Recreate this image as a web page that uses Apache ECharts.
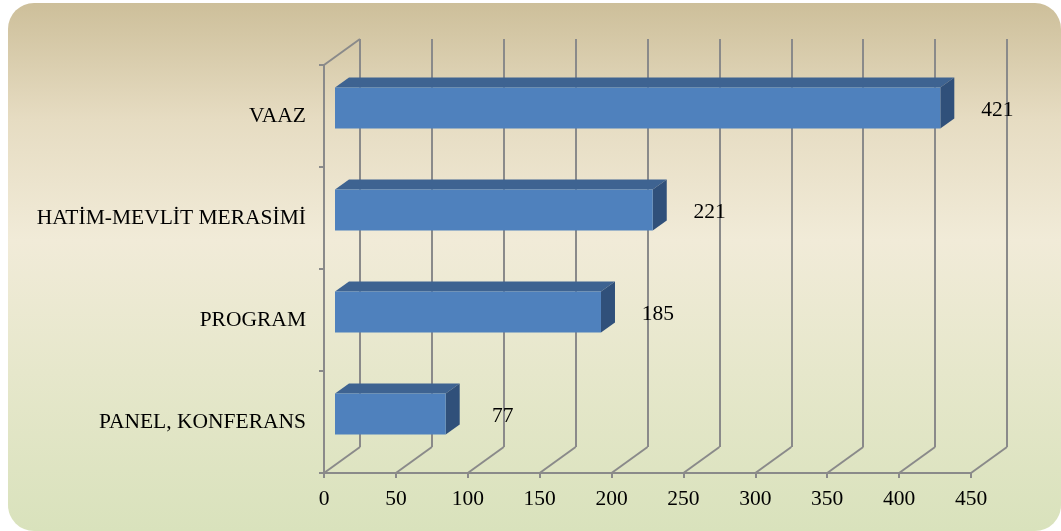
<!DOCTYPE html>
<html>
<head>
<meta charset="utf-8">
<script src="https://cdn.jsdelivr.net/npm/echarts@6/dist/echarts.min.js"></script>
<style>
  html, body { margin: 0; padding: 0; background: #fff; }
  #wrap { position: relative; width: 1061px; height: 531px; overflow: hidden; }
  #bg {
    position: absolute; left: 8px; top: 3px; right: 0; bottom: 0;
    border-radius: 26px;
    background: linear-gradient(to bottom, #cdbf9a 0%, #e6dcc2 22%, #f1ebd8 45%, #e6e7cb 70%, #d9e2bc 100%);
  }
  #chart { position: absolute; left: 0; top: 0; width: 1061px; height: 531px; }
</style>
</head>
<body>
<div id="wrap">
  <div id="bg"></div>
  <div id="chart"></div>
</div>
<script>
const categories = ['PANEL, KONFERANS', 'PROGRAM', 'HATİM-MEVLİT MERASİMİ', 'VAAZ'];
const values = [77, 185, 221, 421];
const xTicks = [0, 50, 100, 150, 200, 250, 300, 350, 400, 450];

// 3d look: depth of the back wall and of the bars, in pixels
const WALL_DX = 36, WALL_DY = 26;
const BAR_DX = 11, BAR_DY = 8;
const BAR_DEPTH_X = 14, BAR_DEPTH_Y = 10;
const GRID_COLOR = '#8a8a8a';
const FONT = 'Liberation Serif, Times New Roman, serif';
const FONT_SIZE = 21.5;

const chart = echarts.init(document.getElementById('chart'));

function renderFloor(params, api) {
  const t = api.value(0);
  const cs = params.coordSys;
  const bottom = cs.y + cs.height;
  const x = api.coord([t, 0])[0];
  const children = [{
    type: 'line',
    shape: { x1: x, y1: bottom, x2: x + WALL_DX, y2: bottom - WALL_DY },
    style: { stroke: GRID_COLOR, lineWidth: 2 }
  }];
  if (params.dataIndex === 0) {
    children.push({
      type: 'line',
      shape: { x1: cs.x, y1: cs.y, x2: cs.x + WALL_DX, y2: cs.y - WALL_DY },
      style: { stroke: GRID_COLOR, lineWidth: 2 }
    });
  }
  return { type: 'group', children: children };
}

function renderBar(params, api) {
  const i = api.value(0);
  const v = api.value(1);
  const start = api.coord([0, i]);
  const end = api.coord([v, i]);
  const band = api.size([0, 1])[1];
  const h = band * 0.4;
  const x0 = start[0] + BAR_DX;
  const x1 = end[0] + BAR_DX;
  const yc = start[1] - BAR_DY;
  const y0 = yc - h / 2;
  const y1 = yc + h / 2;
  return {
    type: 'group',
    children: [
      {
        type: 'polygon',
        shape: { points: [[x0, y0], [x1, y0], [x1 + BAR_DEPTH_X, y0 - BAR_DEPTH_Y], [x0 + BAR_DEPTH_X, y0 - BAR_DEPTH_Y]] },
        style: { fill: '#3e6391' }
      },
      {
        type: 'polygon',
        shape: { points: [[x1, y0], [x1 + BAR_DEPTH_X, y0 - BAR_DEPTH_Y], [x1 + BAR_DEPTH_X, y1 - BAR_DEPTH_Y], [x1, y1]] },
        style: { fill: '#30507a' }
      },
      {
        type: 'rect',
        shape: { x: x0, y: y0, width: x1 - x0, height: h },
        style: { fill: '#4f81bd' }
      },
      {
        type: 'text',
        x: x1 + 57,
        y: yc + 2,
        style: {
          text: String(v), fill: '#000', font: FONT_SIZE + 'px ' + FONT,
          align: 'center', verticalAlign: 'middle'
        }
      }
    ]
  };
}

const option = {
  animation: false,
  grid: [
    { left: 324, right: 90, top: 65, bottom: 58 },
    { left: 324 + WALL_DX, right: 90 - WALL_DX, top: 65 - WALL_DY, bottom: 58 + WALL_DY }
  ],
  xAxis: [
    {
      gridIndex: 0, type: 'value', min: 0, max: 450, interval: 50,
      axisLine: { show: true, lineStyle: { color: GRID_COLOR, width: 2 } },
      axisTick: { show: true, length: 5, lineStyle: { color: GRID_COLOR, width: 2 } },
      splitLine: { show: false },
      axisLabel: { color: '#000', fontFamily: FONT, fontSize: FONT_SIZE, margin: 15 }
    },
    {
      gridIndex: 1, type: 'value', min: 0, max: 450, interval: 50,
      axisLine: { show: false }, axisTick: { show: false }, axisLabel: { show: false },
      splitLine: { show: true, lineStyle: { color: GRID_COLOR, width: 2 } }
    }
  ],
  yAxis: [
    {
      gridIndex: 0, type: 'category', data: categories,
      axisLine: { show: true, lineStyle: { color: GRID_COLOR, width: 2 } },
      axisTick: { show: true, length: 5, lineStyle: { color: GRID_COLOR, width: 2 } },
      splitLine: { show: false },
      axisLabel: { color: '#000', fontFamily: FONT, fontSize: FONT_SIZE, margin: 18, padding: [4, 0, 0, 0] }
    },
    {
      gridIndex: 1, type: 'category', data: categories, show: false
    }
  ],
  series: [
    {
      type: 'custom',
      xAxisIndex: 0, yAxisIndex: 0,
      renderItem: renderFloor,
      data: xTicks.map(t => [t]),
      encode: { x: 0 },
      silent: true
    },
    {
      type: 'custom',
      xAxisIndex: 0, yAxisIndex: 0,
      renderItem: renderBar,
      data: values.map((v, i) => [i, v]),
      encode: { x: 1, y: 0 },
      z: 5
    }
  ]
};

chart.setOption(option);
</script>
</body>
</html>
